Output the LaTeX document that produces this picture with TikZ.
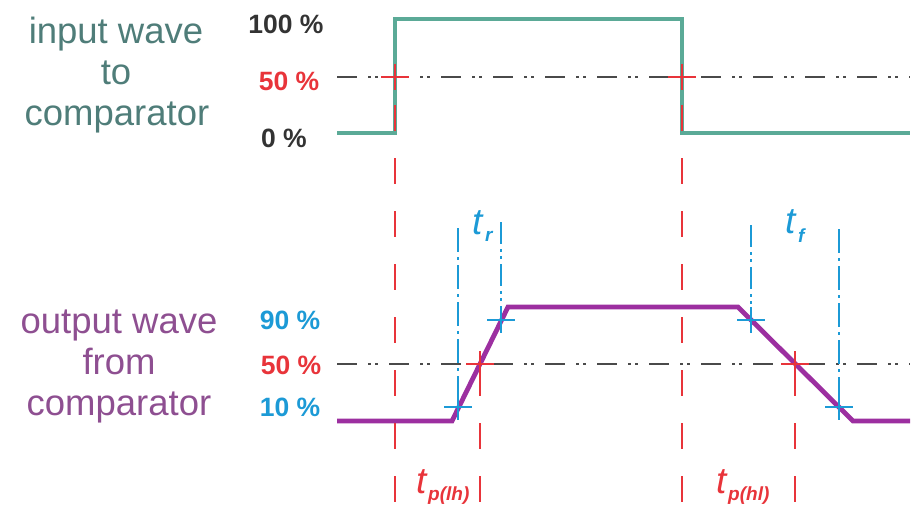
\documentclass[tikz,border=0pt]{standalone}
\usepackage{fontspec}
\setmainfont{Liberation Sans}
\definecolor{wteal}{HTML}{5BAA97}
\definecolor{wpurp}{HTML}{9C2FA0}
\definecolor{wred}{HTML}{E8343A}
\definecolor{wblue}{HTML}{1C9AD6}
\definecolor{wgray}{HTML}{4A4A4A}
\definecolor{wdark}{HTML}{333333}
\definecolor{intext}{HTML}{4F7D79}
\definecolor{outtext}{HTML}{8E4F91}
\tikzset{
  xmark/.pic={\draw[line width=1.8pt] (-14,0)--(14,0) (0,-13)--(0,13);},
}
\begin{document}
\begin{tikzpicture}[x=1pt,y=-1pt,
  inwave/.style={wteal,line width=4.5pt,line join=miter},
  outwave/.style={wpurp,line width=4.8pt,line join=miter},
  refline/.style={wgray,line width=1.8pt,dash pattern=on 20pt off 11pt on 3pt off 4pt on 3pt off 11pt},
  redv/.style={wred,line width=1.8pt,dash pattern=on 26pt off 27pt},
  bluedd/.style={wblue,line width=1.8pt,dash pattern=on 22pt off 5pt on 3pt off 4pt on 3pt off 5pt},
  bluedot/.style={wblue,line width=1.8pt,dash pattern=on 24pt off 5pt on 3pt off 5pt},
  sidelbl/.style={inner sep=0pt,anchor=base,font=\fontsize{36.5}{41}\selectfont},
  pct/.style={inner sep=0pt,anchor=base,font=\fontsize{26.5}{30}\selectfont\bfseries},
  tbig/.style={inner sep=0pt,anchor=base west,font=\fontsize{37}{40}\selectfont\itshape},
  tsub/.style={inner sep=0pt,anchor=base west,font=\fontsize{19}{22}\selectfont\bfseries\itshape},
]
\useasboundingbox (0,0) rectangle (916,507);

% coordinates
\coordinate (iA) at (337,133);
\coordinate (iB) at (395,133);
\coordinate (iC) at (395,19);
\coordinate (iD) at (682,19);
\coordinate (iE) at (682,133);
\coordinate (iF) at (910,133);
\coordinate (oA) at (337,421);
\coordinate (oB) at (452,421);
\coordinate (oC) at (508,307);
\coordinate (oD) at (738,307);
\coordinate (oE) at (853,421);
\coordinate (oF) at (910,421);
\coordinate (r1) at (395,77);
\coordinate (r2) at (682,77);
\coordinate (r3) at (480,364);
\coordinate (r4) at (795,364);
\coordinate (b1) at (458,407);
\coordinate (b2) at (501,320);
\coordinate (b3) at (751,320);
\coordinate (b4) at (839,407);

% reference lines
\coordinate (g1a) at (337,77); \coordinate (g1b) at (910,77);
\coordinate (g2a) at (337,364); \coordinate (g2b) at (910,364);
\draw[refline] (g1a) -- (g1b);
\draw[refline] (g2a) -- (g2b);

% waves
\draw[inwave] (iA) -- (iB) -- (iC) -- (iD) -- (iE) -- (iF);
\draw[outwave] (oA) -- (oB) -- (oC) -- (oD) -- (oE) -- (oF);

% red markers
\coordinate (rv1) at (395,105); \coordinate (rv1e) at (395,507);
\coordinate (rv2) at (682,105); \coordinate (rv2e) at (682,507);
\coordinate (rv3) at (480,370); \coordinate (rv3e) at (480,507);
\coordinate (rv4) at (795,370); \coordinate (rv4e) at (795,507);
\draw[redv] (rv1) -- (rv1e);
\draw[redv] (rv2) -- (rv2e);
\draw[redv] (rv3) -- (rv3e);
\draw[redv] (rv4) -- (rv4e);
\pic[wred] at (r1) {xmark};
\pic[wred] at (r2) {xmark};
\pic[wred] at (r3) {xmark};
\pic[wred] at (r4) {xmark};

% blue markers
\coordinate (bv1) at (458,228);
\coordinate (bv2) at (501,222);
\coordinate (bv3) at (751,225);
\coordinate (bv4) at (839,229);
\draw[bluedot] (bv1) -- (b1);
\draw[bluedd] (bv2) -- (b2);
\draw[bluedd] (bv3) -- (b3);
\draw[bluedot] (bv4) -- (b4);
\pic[wblue] at (b1) {xmark};
\pic[wblue] at (b2) {xmark};
\pic[wblue] at (b3) {xmark};
\pic[wblue] at (b4) {xmark};

% side labels
\node[sidelbl,text=intext] (in1) at (116,43) {input wave};
\node[sidelbl,text=intext] (in2) at (116,84) {to};
\node[sidelbl,text=intext] (in3) at (117,125) {comparator};
\node[sidelbl,text=outtext] (out1) at (119,333) {output wave};
\node[sidelbl,text=outtext] (out2) at (119,374) {from};
\node[sidelbl,text=outtext] (out3) at (119,415) {comparator};

% percentages
\node[pct,text=wdark] (p100) at (286,33) {100 \%};
\node[pct,text=wred] (p50a) at (289,90) {50 \%};
\node[pct,text=wdark] (p0) at (284,147) {0 \%};
\node[pct,text=wblue] (p90) at (290,329) {90 \%};
\node[pct,text=wred] (p50b) at (291,374) {50 \%};
\node[pct,text=wblue] (p10) at (290,416) {10 \%};

% time labels
\node[tbig,text=wblue] (tr) at (472,234) {t};
\node[tsub,text=wblue] (trs) at (485,241) {r};
\node[tbig,text=wblue] (tf) at (785,233) {t};
\node[tsub,text=wblue] (tfs) at (798,242) {f};
\node[tbig,text=wred] (tplh) at (416,493) {t};
\node[tsub,text=wred] (tplhs) at (428,500) {p(lh)};
\node[tbig,text=wred] (tphl) at (716,493) {t};
\node[tsub,text=wred] (tphls) at (728,500) {p(hl)};
\end{tikzpicture}
\end{document}
